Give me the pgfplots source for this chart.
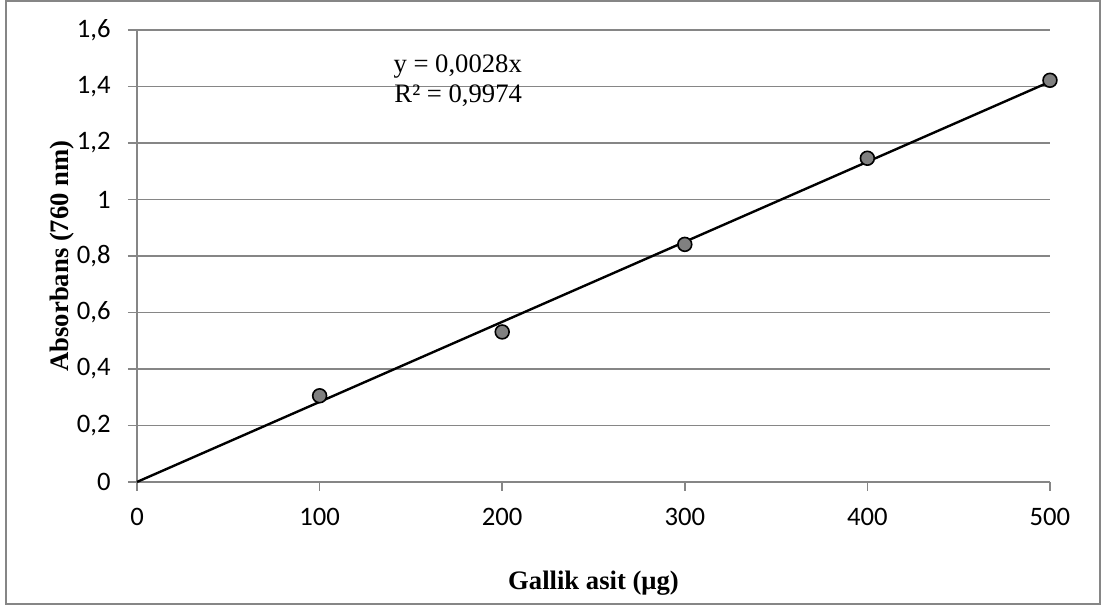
\documentclass[border=0pt]{standalone}
\usepackage{pgfplots}
\pgfplotsset{compat=1.18}
\usepackage{fontspec}
\setmainfont{Liberation Serif}
\newfontfamily\calibri{Carlito}
\definecolor{gridgray}{RGB}{134,134,134}
\definecolor{markgray}{RGB}{128,128,128}
\begin{document}
\begin{tikzpicture}
\begin{axis}[
  scale only axis, width=342.4pt, height=169.5pt,
  xmin=0, xmax=500, ymin=0, ymax=1.6,
  xtick={0,100,200,300,400,500},
  ytick={0,0.2,0.4,0.6,0.8,1,1.2,1.4,1.6},
  axis x line*=bottom, axis y line*=left,
  ymajorgrids, grid style={gridgray, line width=0.6pt},
  axis line style={gridgray, line width=0.6pt},
  tick style={gridgray, line width=0.6pt},
  tick align=outside, major tick length=3.4pt,
  ticklabel style={font=\calibri\fontsize{10}{12}\selectfont},
  /pgf/number format/assume math mode=true,
  /pgf/number format/use comma,
  /pgf/number format/fixed,
  /pgf/number format/1000 sep={},
  yticklabel style={xshift=-3pt},
  xticklabel style={yshift=-3pt},
  xlabel={\textbf{Gallik asit (μg)}},
  ylabel={\textbf{Absorbans (760 nm)}},
  xlabel style={at={(rel axis cs:0.5,0)}, anchor=center, yshift=-37.9pt},
  ylabel style={at={(rel axis cs:0,0.5)}, anchor=center, rotate=0, yshift=28.1pt},
  clip=false,
]
\addplot[black, line width=0.9pt] coordinates {(0,0) (500,1.4168)};
\addplot[only marks, mark=*, mark size=2.6pt,
  mark options={fill=markgray, draw=black, line width=0.6pt}] coordinates {
  (100,0.305) (200,0.531) (300,0.841) (400,1.146) (500,1.422)};
\node[anchor=base west, inner sep=0pt] at (axis cs:140.2,1.451) {y = 0,0028x};
\node[anchor=base west, inner sep=0pt] at (axis cs:140.7,1.342) {R² = 0,9974};
\draw[gridgray, line width=0.6pt] ([xshift=-49.1pt,yshift=-45.75pt]rel axis cs:0,0) rectangle ([xshift=18.75pt,yshift=10.9pt]rel axis cs:1,1);
\path ([xshift=-51.4pt,yshift=-47.25pt]rel axis cs:0,0) rectangle ([xshift=19.9pt,yshift=11.25pt]rel axis cs:1,1);
\end{axis}
\end{tikzpicture}
\end{document}
